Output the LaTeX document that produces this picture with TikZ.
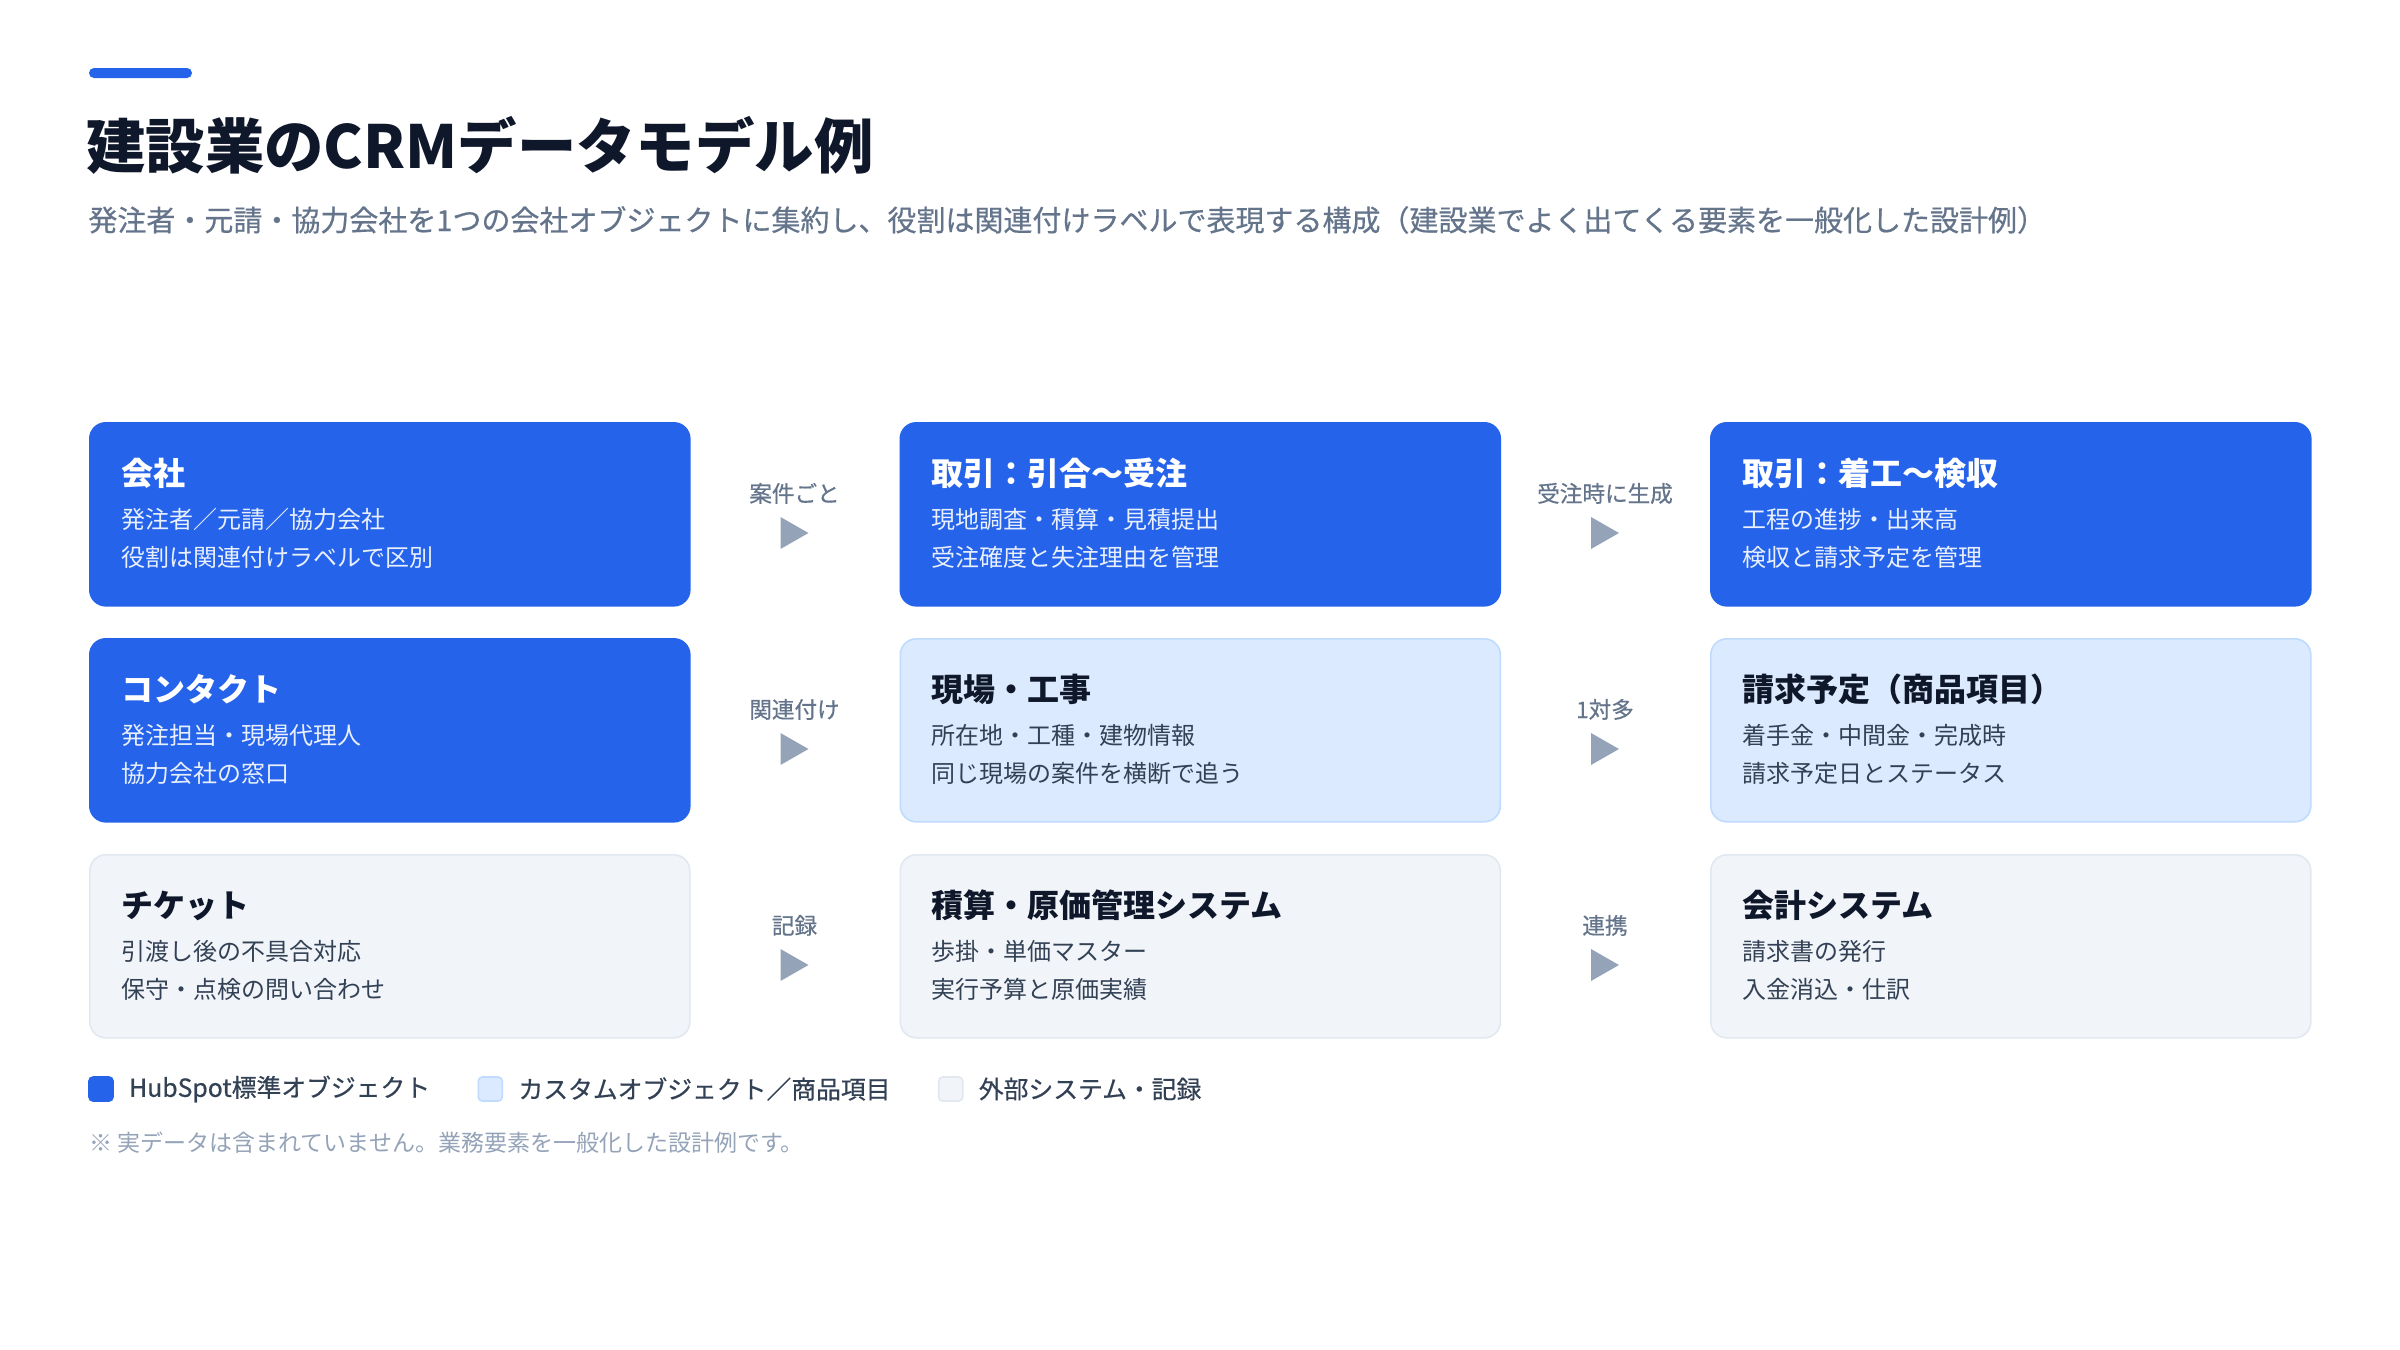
\documentclass[tikz,border=0pt]{standalone}
\usepackage{fontspec}
\setmainfont{Noto Sans CJK JP}
\newfontfamily\midfam{Noto Sans CJK JP}[FakeBold=0.5]
\usetikzlibrary{positioning}

\definecolor{hsblue}{HTML}{2563EB}
\definecolor{softfill}{HTML}{DBEAFE}
\definecolor{softline}{HTML}{BFDBFE}
\definecolor{greyfill}{HTML}{F1F5F9}
\definecolor{greyline}{HTML}{E2E8F0}
\definecolor{ink}{HTML}{0F172A}
\definecolor{bodyink}{HTML}{334155}
\definecolor{slate}{HTML}{64748B}
\definecolor{arrowgray}{HTML}{94A3B8}
\definecolor{onblue}{HTML}{E8EFFD}

\newcommand\titlefont{\fontsize{29.7pt}{36pt}\selectfont\bfseries}
\newcommand\subfont{\midfam\fontsize{14.5pt}{18pt}\selectfont}
\newcommand\headfont{\fontsize{16pt}{20pt}\selectfont\bfseries}
\newcommand\bodyfont{\fontsize{12pt}{15pt}\selectfont}
\newcommand\relfont{\midfam\fontsize{11.3pt}{14pt}\selectfont}
\newcommand\legendfont{\midfam\fontsize{12.4pt}{15pt}\selectfont}
\newcommand\notefont{\fontsize{11.5pt}{13pt}\selectfont}

\begin{document}
\begin{tikzpicture}[x=0.5pt,y=-0.5pt]

\def\cw{300pt}
\def\ch{91.5pt}
\tikzstyle{txt} = [inner sep=0, anchor=base west];
\tikzstyle{card} = [rectangle, rounded corners=8pt, line width=0.8pt,
	minimum width=\cw, minimum height=\ch, anchor=north west, inner sep=0];
\tikzstyle{card-blue} = [card, fill=hsblue, draw=hsblue];
\tikzstyle{card-soft} = [card, fill=softfill, draw=softline];
\tikzstyle{card-grey} = [card, fill=greyfill, draw=greyline];
\tikzstyle{head-blue} = [txt, font=\headfont, text=white];
\tikzstyle{head-soft} = [txt, font=\headfont, text=ink];
\tikzstyle{head-grey} = [txt, font=\headfont, text=ink];
\tikzstyle{body-blue} = [txt, font=\bodyfont, text=onblue];
\tikzstyle{body-soft} = [txt, font=\bodyfont, text=bodyink];
\tikzstyle{body-grey} = [txt, font=\bodyfont, text=bodyink];
\tikzstyle{rel} = [inner sep=0, anchor=base, font=\relfont, text=slate];
\tikzstyle{tri} = [fill=arrowgray];
\tikzstyle{sq} = [rectangle, rounded corners=2pt, minimum size=12pt, inner sep=0, line width=0.8pt];
\tikzstyle{lg} = [inner sep=0, font=\legendfont, text=bodyink];

\fill[white] (0,0) rectangle (2400,1350);
\useasboundingbox (0,0) rectangle (2400,1350);

% heading
\fill[hsblue, rounded corners=2.5pt] (89,68) rectangle (192,78);
\node[txt, font=\titlefont, text=ink] (title) at (86,168) {建設業のCRMデータモデル例};
\node[txt, font=\subfont, text=slate] (sub) at (88,231)
	{発注者・元請・協力会社を1つの会社オブジェクトに集約し、役割は関連付けラベルで表現する構成（建設業でよく出てくる要素を一般化した設計例）};

% cards
\foreach \nm/\c/\r/\k/\hd/\la/\lb in {
	kaisha/0/0/blue/会社/発注者／元請／協力会社/役割は関連付けラベルで区別,
	hikiai/1/0/blue/取引：引合〜受注/現地調査・積算・見積提出/受注確度と失注理由を管理,
	chakko/2/0/blue/取引：着工〜検収/工程の進捗・出来高/検収と請求予定を管理,
	contact/0/1/blue/コンタクト/発注担当・現場代理人/協力会社の窓口,
	genba/1/1/soft/現場・工事/所在地・工種・建物情報/同じ現場の案件を横断で追う,
	seikyu/2/1/soft/請求予定（商品項目）/着手金・中間金・完成時/請求予定日とステータス,
	ticket/0/2/grey/チケット/引渡し後の不具合対応/保守・点検の問い合わせ,
	sekisan/1/2/grey/積算・原価管理システム/歩掛・単価マスター/実行予算と原価実績,
	kaikei/2/2/grey/会計システム/請求書の発行/入金消込・仕訳}{
	\node[card-\k] (\nm) at (89+\c*810.5, 422+\r*216) {};
	\node[head-\k] (\nm-h) at (121+\c*810.5, 485+\r*216) {\hd};
	\node[body-\k] (\nm-a) at (121+\c*810.5, 528+\r*216) {\la};
	\node[body-\k] (\nm-b) at (121+\c*810.5, 566+\r*216) {\lb};
}

% relations between columns
\foreach \r/\la/\lb in {0/案件ごと/受注時に生成, 1/関連付け/1対多, 2/記録/連携}{
	\node[rel] (rel-\r a) at (794.5, 502+\r*216) {\la};
	\node[rel] (rel-\r b) at (1605, 502+\r*216) {\lb};
	\coordinate (tri-\r a) at (794.5, 533+\r*216);
	\coordinate (tri-\r b) at (1605, 533+\r*216);
	\fill[tri] (tri-\r a) ++(-14,-16) -- ++(28,16) -- ++(-28,16) -- cycle;
	\fill[tri] (tri-\r b) ++(-14,-16) -- ++(28,16) -- ++(-28,16) -- cycle;
}

% legend
\node[sq, fill=hsblue, draw=hsblue] (lg1) at (101,1089) {};
\node[lg, right=7.5pt of lg1] (lg1t) {HubSpot標準オブジェクト};
\node[sq, fill=softfill, draw=softline, right=23.5pt of lg1t] (lg2) {};
\node[lg, right=7.5pt of lg2] (lg2t) {カスタムオブジェクト／商品項目};
\node[sq, fill=greyfill, draw=greyline, right=23.5pt of lg2t] (lg3) {};
\node[lg, right=7.5pt of lg3] (lg3t) {外部システム・記録};

\node[txt, font=\notefont, text=arrowgray] (note) at (89,1151)
	{※ 実データは含まれていません。業務要素を一般化した設計例です。};

\end{tikzpicture}
\end{document}
